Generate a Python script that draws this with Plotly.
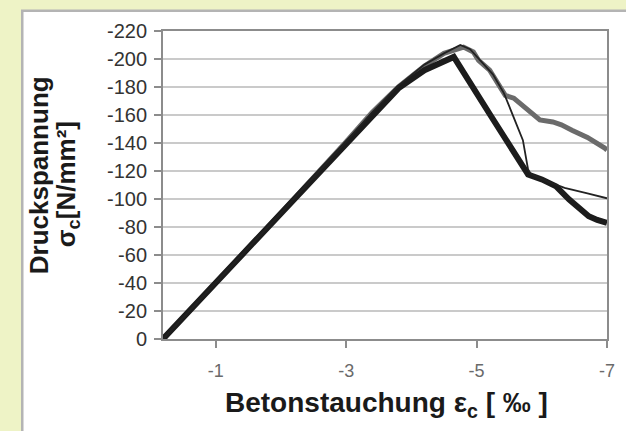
import plotly.graph_objects as go

# Betonstauchung (x) und Druckspannung (y) je Versuchskurve
strain_thick = [-0.19, -1.0, -2.0, -3.0, -3.4, -3.8, -4.2, -4.65,
                -5.21, -5.79, -6.0, -6.22, -6.42, -6.6, -6.72, -6.85, -7.0]
stress_thick = [0, -40, -90, -140, -160, -179, -192, -201.5,
                -160, -117.5, -114, -109, -99.6, -92, -87.7, -85, -83]

strain_thin = [-0.19, -1.0, -2.0, -3.0, -3.4, -3.8, -4.2, -4.5, -4.75,
               -4.9, -5.08, -5.25, -5.42, -5.55, -5.71, -5.79, -5.83,
               -6.0, -6.35, -6.7, -7.0]
stress_thin = [0, -40, -90, -141, -162, -181, -196, -204, -210,
               -207, -198, -189, -175.5, -160, -142, -121, -118,
               -114, -108, -104, -100.5]

strain_gray = [-0.19, -1.0, -2.0, -3.0, -3.4, -3.8, -4.2, -4.5, -4.8,
               -4.95, -5.03, -5.2, -5.33, -5.44, -5.57, -5.75, -5.97, -6.17,
               -6.3, -6.47, -6.7, -6.96, -7.0]
stress_gray = [0, -40, -90, -141, -162, -180, -195, -204, -208.5,
               -205, -199, -192, -182.6, -174, -172, -165, -156.5, -155,
               -153, -149, -144, -136.5, -135]

x_ticks = [-1, -3, -5, -7]
x_ticktext = ["-1", "-3", "-5", "-7"]
y_ticks = [0, -20, -40, -60, -80, -100, -120, -140, -160, -180, -200, -220]
y_ticktext = ["0", "-20", "-40", "-60", "-80", "-100", "-120", "-140",
              "-160", "-180", "-200", "-220"]

FONT = "Liberation Sans, Arial, sans-serif"
TITLE_COLOR = "#1a1a1a"

fig = go.Figure()
fig.add_trace(go.Scatter(x=strain_gray, y=stress_gray, mode="lines",
                         line=dict(color="#6b6b6b", width=5), showlegend=False))
fig.add_trace(go.Scatter(x=strain_thick, y=stress_thick, mode="lines",
                         line=dict(color="#1c1c1c", width=6), showlegend=False))
fig.add_trace(go.Scatter(x=strain_thin, y=stress_thin, mode="lines",
                         line=dict(color="#222222", width=1.8), showlegend=False))

# weißes Diagrammfeld mit grauem Rand auf gelbgrünem Hintergrund
fig.add_shape(type="rect", xref="paper", yref="paper", layer="below",
              x0=-0.317, x1=1.05, y0=-0.35, y1=1.066,
              fillcolor="white", line=dict(color="#b4b4b4", width=2.5))

# Achsentitel: y-Titel zweizeilig, jede Zeile einzeln gesetzt
fig.add_annotation(text="<b>Druckspannung</b>",
                   xref="paper", yref="paper", x=-0.279, y=0.532,
                   textangle=-90, showarrow=False,
                   font=dict(family=FONT, size=26, color=TITLE_COLOR),
                   xanchor="center", yanchor="middle")
fig.add_annotation(text="<b>σ<sub>c</sub>[N/mm²]</b>",
                   xref="paper", yref="paper", x=-0.216, y=0.503,
                   textangle=-90, showarrow=False,
                   font=dict(family=FONT, size=26, color=TITLE_COLOR),
                   xanchor="center", yanchor="middle")
fig.add_annotation(text="<b>Betonstauchung ε<sub>c</sub> [ ‰ ]</b>",
                   xref="paper", yref="paper", x=0.503, y=-0.212,
                   showarrow=False,
                   font=dict(family=FONT, size=28, color=TITLE_COLOR),
                   xanchor="center", yanchor="middle")

fig.update_layout(
    width=626, height=431,
    margin=dict(l=162.5, r=11, t=30.5, b=91.5),
    paper_bgcolor="#eef3c6",
    plot_bgcolor="rgba(0,0,0,0)",
    font=dict(family=FONT),
)
fig.update_xaxes(range=[-0.19, -7.0], tickvals=x_ticks, ticktext=x_ticktext,
                 showgrid=False, zeroline=False,
                 showline=True, linecolor="#8c8c8c", linewidth=2, mirror=True,
                 ticks="outside", ticklen=7, tickcolor="#8c8c8c", tickwidth=1.5,
                 ticklabelstandoff=7,
                 tickfont=dict(family=FONT, size=18, color="#6a6a6a"))
fig.update_yaxes(range=[0, -220], tickvals=y_ticks, ticktext=y_ticktext,
                 showgrid=True, gridcolor="#cacaca", gridwidth=2, zeroline=False,
                 showline=True, linecolor="#8c8c8c", linewidth=2, mirror=True,
                 ticks="outside", ticklen=7, tickcolor="#8c8c8c", tickwidth=1.5,
                 ticklabelstandoff=3,
                 tickfont=dict(family=FONT, size=20, color="#333333"))

fig.write_html("out.html")
